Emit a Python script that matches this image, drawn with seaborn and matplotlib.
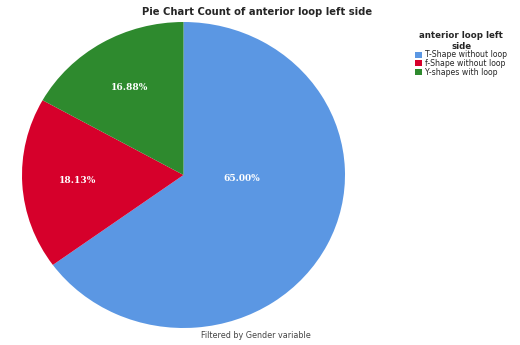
import matplotlib
matplotlib.use("Agg")
import matplotlib.pyplot as plt
import seaborn as sns
from decimal import Decimal, ROUND_HALF_UP

categories = ["T-Shape without loop", "f-Shape without loop", "Y-shapes with loop"]
counts = [104, 29, 27]
colors_hex = ["#5b97e3", "#d6002b", "#2e8a2e"]

sns.set_theme(style="white")
plt.rcParams['font.family'] = ['DejaVu Sans']
palette = sns.color_palette(colors_hex)

total = sum(counts)


def fmt_pct(p):
    v = Decimal(str(p)).quantize(Decimal("0.01"), rounding=ROUND_HALF_UP)
    return f"{v}%"


fig = plt.figure(figsize=(5.2, 3.45), dpi=100)
ax = fig.add_axes([22/520, 1-328/345, 323/520, 306/345])

pcts = [c * 100 / total for c in counts]
wedges, texts, autotexts = ax.pie(
    counts, colors=palette, startangle=90, counterclock=False,
    autopct=lambda p: "", pctdistance=0.66,
    wedgeprops=dict(linewidth=0),
)
for t, p in zip(autotexts, pcts):
    t.set_text(fmt_pct(p))
    t.set_color("white")
    t.set_fontsize(6.5)
    t.set_fontweight("bold")
    t.set_family("DejaVu Serif")
ax.set_aspect("auto")
ax.set_xlim(-1.0, 1.0)
ax.set_ylim(-1.0, 1.0)
autotexts[0].set_position((0.36, -0.02))

fig.text(257/520, 1-12/345, "Pie Chart Count of anterior loop left side",
         ha="center", va="center", fontsize=7.2, fontweight="bold")
fig.text(256/520, 1-335/345, "Filtered by Gender variable",
         ha="center", va="center", fontsize=5.8, color="#444444")

leg = fig.legend(wedges, categories, title="anterior loop left\nside",
                 loc="upper left", bbox_to_anchor=(410/520, 1-26/345),
                 frameon=False, fontsize=5.6, title_fontsize=6.2,
                 handlelength=0.9, handleheight=0.8, handletextpad=0.35,
                 labelspacing=-0.05, borderpad=0.2)
leg.get_title().set_fontweight("bold")
leg.get_title().set_multialignment("center")

fig.savefig("out.png", dpi=100)
